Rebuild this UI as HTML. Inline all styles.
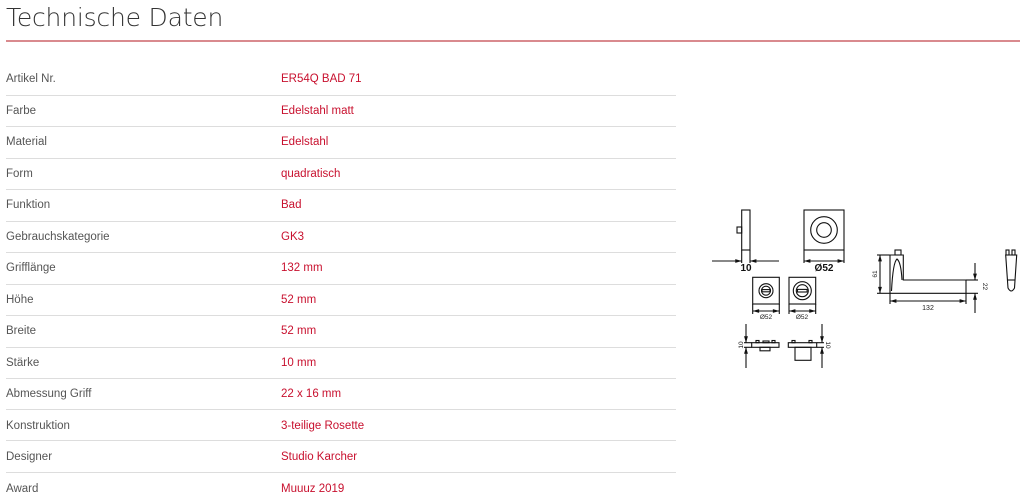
<!DOCTYPE html>
<html><head><meta charset="utf-8"><style>
html,body{margin:0;padding:0;background:#fff;width:1024px;height:503px;overflow:hidden;position:relative;font-family:"Liberation Sans",sans-serif}
h1{position:absolute;left:6px;top:3px;margin:0;font-size:25px;color:#333;letter-spacing:-0.2px;font-family:"DejaVu Sans","Liberation Sans",sans-serif;font-weight:200}
.red{position:absolute;left:6px;top:40px;width:1014px;height:2px;background:#d98a8e}
.row{position:absolute;left:6px;width:670px;font-size:11.5px;color:#555}
.row span.v{position:absolute;left:275px;color:#c8102e}
.sep{position:absolute;left:6px;width:670px;height:1px;background:#ddd}
svg{position:absolute;left:0;top:0}
</style></head><body>
<h1>Technische Daten</h1>
<div class="red"></div>
<div class="row" style="top:73px">Artikel Nr.<span class="v">ER54Q BAD 71</span></div>
<div class="sep" style="top:95px"></div>
<div class="row" style="top:105px">Farbe<span class="v">Edelstahl matt</span></div>
<div class="sep" style="top:126px"></div>
<div class="row" style="top:136px">Material<span class="v">Edelstahl</span></div>
<div class="sep" style="top:158px"></div>
<div class="row" style="top:168px">Form<span class="v">quadratisch</span></div>
<div class="sep" style="top:189px"></div>
<div class="row" style="top:199px">Funktion<span class="v">Bad</span></div>
<div class="sep" style="top:221px"></div>
<div class="row" style="top:231px">Gebrauchskategorie<span class="v">GK3</span></div>
<div class="sep" style="top:252px"></div>
<div class="row" style="top:262px">Grifflänge<span class="v">132 mm</span></div>
<div class="sep" style="top:284px"></div>
<div class="row" style="top:294px">Höhe<span class="v">52 mm</span></div>
<div class="sep" style="top:315px"></div>
<div class="row" style="top:325px">Breite<span class="v">52 mm</span></div>
<div class="sep" style="top:347px"></div>
<div class="row" style="top:357px">Stärke<span class="v">10 mm</span></div>
<div class="sep" style="top:378px"></div>
<div class="row" style="top:388px">Abmessung Griff<span class="v">22 x 16 mm</span></div>
<div class="sep" style="top:409px"></div>
<div class="row" style="top:420px">Konstruktion<span class="v">3-teilige Rosette</span></div>
<div class="sep" style="top:440px"></div>
<div class="row" style="top:451px">Designer<span class="v">Studio Karcher</span></div>
<div class="sep" style="top:472px"></div>
<div class="row" style="top:483px">Award<span class="v">Muuuz 2019</span></div>

<svg width="1024" height="503" viewBox="0 0 1024 503" fill="none" stroke="#111" stroke-width="1.1" font-family="Liberation Sans, sans-serif">
<defs><marker id="a" viewBox="0 0 10 6" refX="10" refY="3" markerWidth="7" markerHeight="3.5" orient="auto-start-reverse"><path d="M0,0L10,3L0,6z" fill="#111" stroke="none"/></marker></defs>
<rect x="741.7" y="210" width="8.3" height="40"/>
<rect x="737" y="227" width="4.7" height="6"/>
<line x1="741.7" y1="250" x2="741.7" y2="263"/><line x1="750" y1="250" x2="750" y2="263"/>
<line x1="712" y1="261" x2="741.7" y2="261" marker-end="url(#a)"/>
<line x1="779" y1="261" x2="750" y2="261" marker-end="url(#a)"/>
<text x="746" y="271" font-size="10" fill="#111" stroke="none" text-anchor="middle" font-weight="bold">10</text>
<rect x="804" y="210" width="40" height="40"/>
<circle cx="824" cy="230" r="13.3"/><circle cx="824" cy="230" r="7.3"/>
<line x1="804" y1="250" x2="804" y2="263"/><line x1="844" y1="250" x2="844" y2="263"/>
<line x1="804" y1="261" x2="844" y2="261" marker-start="url(#a)" marker-end="url(#a)"/>
<text x="824" y="271" font-size="10" fill="#111" stroke="none" text-anchor="middle" font-weight="bold">Ø52</text>
<rect x="752.7" y="277.3" width="26.6" height="26.7"/>
<circle cx="766" cy="290.7" r="7"/><circle cx="766" cy="290.7" r="4.5"/><rect x="762" y="289.6" width="8" height="2.2"/>
<rect x="789" y="277.3" width="26.7" height="26.7"/>
<circle cx="802.3" cy="290.7" r="9"/><circle cx="802.3" cy="290.7" r="6"/><rect x="797.5" y="289.4" width="9.6" height="2.6"/>
<line x1="752.7" y1="304" x2="752.7" y2="314"/><line x1="779.3" y1="304" x2="779.3" y2="314"/>
<line x1="752.7" y1="311" x2="779.3" y2="311" marker-start="url(#a)" marker-end="url(#a)"/>
<line x1="789" y1="304" x2="789" y2="314"/><line x1="815.7" y1="304" x2="815.7" y2="314"/>
<line x1="789" y1="311" x2="815.7" y2="311" marker-start="url(#a)" marker-end="url(#a)"/>
<text x="766" y="319" font-size="6.5" fill="#222" stroke="none" text-anchor="middle">Ø52</text>
<text x="802" y="319" font-size="6.5" fill="#222" stroke="none" text-anchor="middle">Ø52</text>
<rect x="751.7" y="342.7" width="27.3" height="4.6"/>
<rect x="756" y="340.5" width="3" height="2.2"/><rect x="772" y="340.5" width="3" height="2.2"/>
<rect x="760" y="347.3" width="10" height="3.5"/><rect x="763" y="341" width="6" height="1.7"/>
<rect x="788.3" y="342.7" width="28.4" height="4.6"/>
<rect x="792" y="340.5" width="3" height="2.2"/><rect x="809" y="340.5" width="3" height="2.2"/>
<rect x="795" y="347.3" width="16" height="13"/>
<line x1="746" y1="324" x2="746" y2="342.7" marker-end="url(#a)"/><line x1="746" y1="368" x2="746" y2="347.3" marker-end="url(#a)"/>
<line x1="744" y1="342.7" x2="751.7" y2="342.7"/><line x1="744" y1="347.3" x2="751.7" y2="347.3"/>
<line x1="822" y1="324" x2="822" y2="342.7" marker-end="url(#a)"/><line x1="822" y1="368" x2="822" y2="347.3" marker-end="url(#a)"/>
<line x1="816.7" y1="342.7" x2="824" y2="342.7"/><line x1="816.7" y1="347.3" x2="824" y2="347.3"/>
<text transform="translate(743,345) rotate(-90)" font-size="6.5" fill="#222" stroke="none" text-anchor="middle">10</text>
<text transform="translate(826,345) rotate(90)" font-size="6.5" fill="#222" stroke="none" text-anchor="middle">10</text>
<rect x="895" y="250" width="6" height="5"/>
<path d="M890,293.3 L890,255 L903.3,255 L903.3,280 L966,280 L966,293.3 Z"/>
<path d="M891.5,291 Q893,262 897,259 Q901,262 902,280"/>
<line x1="877" y1="255" x2="890" y2="255"/><line x1="877" y1="293.3" x2="890" y2="293.3"/>
<line x1="880" y1="255" x2="880" y2="293.3" marker-start="url(#a)" marker-end="url(#a)"/>
<text transform="translate(877,274) rotate(-90)" font-size="6.5" fill="#222" stroke="none" text-anchor="middle">61</text>
<line x1="966" y1="280" x2="978" y2="280"/><line x1="966" y1="293.3" x2="978" y2="293.3"/>
<line x1="975" y1="263" x2="975" y2="280" marker-end="url(#a)"/><line x1="975" y1="313" x2="975" y2="293.3" marker-end="url(#a)"/>
<text transform="translate(983,286.5) rotate(90)" font-size="6.5" fill="#222" stroke="none" text-anchor="middle">22</text>
<line x1="890" y1="293.3" x2="890" y2="304"/><line x1="966" y1="293.3" x2="966" y2="304"/>
<line x1="890" y1="301" x2="966" y2="301" marker-start="url(#a)" marker-end="url(#a)"/>
<text x="928" y="310" font-size="7" fill="#222" stroke="none" text-anchor="middle">132</text>
<rect x="1006" y="250" width="3" height="5"/><rect x="1012" y="250" width="3" height="5"/>
<path d="M1005.7,255 L1016.7,255 L1014.5,288 Q1011.2,294 1008,288 Z"/>
<line x1="1007.5" y1="280" x2="1015" y2="280"/>
</svg>
</body></html>
